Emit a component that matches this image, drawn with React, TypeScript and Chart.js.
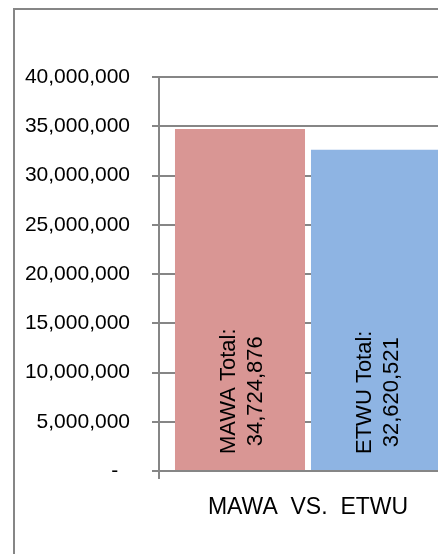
import React, { useEffect, useRef } from "react";
import { Chart, registerables } from "chart.js";

Chart.register(...registerables);

const categories = ["MAWA  VS.  ETWU"];
const seriesNames = ["MAWA Total:", "ETWU Total:"];
const mawaValues = [34724876];
const etwuValues = [32620521];
const seriesColors = ["#D99694", "#8EB4E3"];
const yMin = 0;
const yMax = 40000000;
const yStep = 5000000;

const GRAY = "#868686";
const FONT = "'Liberation Sans', Arial, sans-serif";

const barLabelPlugin = {
  id: "barLabels",
  afterDatasetsDraw(chart: any) {
    const ctx = chart.ctx;
    ctx.save();
    ctx.fillStyle = "#000";
    ctx.font = `22px ${FONT}`;
    ctx.textAlign = "center";
    ctx.textBaseline = "alphabetic";
    chart.data.datasets.forEach((ds: any, di: number) => {
      const meta = chart.getDatasetMeta(di);
      meta.data.forEach((bar: any, i: number) => {
        const v = ds.data[i] as number;
        const lines = [seriesNames[di], v.toLocaleString("en-US")];
        const w = Math.max(...lines.map((l) => ctx.measureText(l).width));
        const base = bar.base as number;
        const cy = base - 16 - w / 2;
        ctx.save();
        ctx.translate(bar.x, cy);
        ctx.rotate(-Math.PI / 2);
        ctx.fillText(lines[0], 0, -5);
        ctx.fillText(lines[1], 0, 22);
        ctx.restore();
      });
    });
    ctx.restore();
  },
};

export default function App() {
  const ref = useRef<HTMLCanvasElement>(null);
  useEffect(() => {
    if (!ref.current) return;
    const chart = new Chart(ref.current, {
      type: "bar",
      data: {
        labels: categories,
        datasets: [
          {
            label: seriesNames[0],
            data: mawaValues,
            backgroundColor: seriesColors[0],
            categoryPercentage: 0.9128,
            barPercentage: 0.956,
          },
          {
            label: seriesNames[1],
            data: etwuValues,
            backgroundColor: seriesColors[1],
            categoryPercentage: 0.9128,
            barPercentage: 0.956,
          },
        ],
      },
      options: {
        responsive: false,
        animation: false,
        devicePixelRatio: 1,
        layout: { padding: { top: 77, right: 23, left: 0, bottom: 0 } },
        plugins: {
          legend: { display: false },
          tooltip: { enabled: false },
        },
        scales: {
          x: {
            offset: true,
            grid: {
              display: true,
              drawOnChartArea: false,
              drawTicks: true,
              tickLength: 8,
              color: GRAY,
              lineWidth: 2,
            },
            border: { display: true, color: GRAY, width: 2 },
            ticks: {
              color: "#000",
              padding: 15,
              font: { family: FONT, size: 23 },
            },
            afterFit: (scale: any) => {
              scale.height = 83;
            },
          },
          y: {
            min: yMin,
            max: yMax,
            grid: {
              color: GRAY,
              lineWidth: 2,
              tickLength: 7,
            },
            border: { display: true, color: GRAY, width: 2 },
            ticks: {
              stepSize: yStep,
              color: "#000",
              padding: 22,
              font: { family: FONT, size: 21 },
              callback: (v: any) =>
                Number(v) === 0 ? "-  " : Number(v).toLocaleString("en-US"),
            },
            afterFit: (scale: any) => {
              scale.width = 159;
            },
          },
        },
      },
      plugins: [barLabelPlugin],
    });
    return () => chart.destroy();
  }, []);

  return (
    <div
      style={{
        position: "fixed",
        left: 0,
        top: 0,
        width: 438,
        height: 554,
        overflow: "hidden",
        background: "#fff",
      }}
    >
      <div
        style={{
          position: "absolute",
          left: 13,
          top: 8,
          width: 700,
          height: 800,
          borderLeft: `2px solid ${GRAY}`,
          borderTop: `2px solid ${GRAY}`,
        }}
      />
      <canvas
        ref={ref}
        width={480}
        height={554}
        style={{ position: "absolute", left: 0, top: 0, width: 480, height: 554 }}
      />
    </div>
  );
}
